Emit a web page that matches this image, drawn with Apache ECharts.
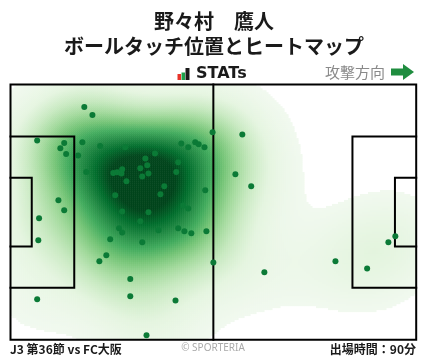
<!DOCTYPE html>
<html><head><meta charset="utf-8">
<script src="https://cdn.jsdelivr.net/npm/echarts@6/dist/echarts.min.js"></script>
<style>html,body{margin:0;padding:0;background:#fff}#c{width:428px;height:359px}</style>
</head><body><div id="c"></div>
<script>
// Ball touch positions, metres (x: 0..105 toward attack, y: 0..68 from top touchline)
const touchX = [19.1,21.2,52.3,60.0,6.9,13.9,12.9,14.4,18.6,17.5,23.2,29.7,44.2,46.0,47.8,48.7,50.2,37.4,34.9,43.4,35.4,33.6,28.9,27.6,26.6,28.7,35.7,34.1,42.9,19.6,30.0,39.8,50.4,38.8,27.1,12.4,13.9,44.7,46.0,28.9,35.7,7.4,33.6,7.2,28.1,28.9,25.8,34.1,38.3,43.4,45.0,46.8,50.7,24.8,23.0,52.5,31.0,31.0,6.9,42.7,35.2,58.2,62.3,65.7,84.1,92.3,97.8,99.6];
const touchY = [6.0,8.1,12.7,13.3,14.9,15.6,17.0,18.5,15.4,18.9,16.4,16.7,15.7,16.7,15.4,15.9,16.7,18.4,19.7,20.7,21.5,22.3,22.6,23.4,23.6,23.7,23.7,24.5,23.3,23.3,25.8,27.1,28.2,29.2,29.5,30.8,33.5,32.2,33.0,33.8,34.0,35.6,36.4,41.5,38.3,39.4,41.2,42.0,38.8,38.3,39.1,39.6,39.1,45.5,47.1,47.4,51.8,56.4,57.2,57.5,66.8,23.9,27.1,50.0,47.1,49.0,42.0,40.4];
const pitchLength = 105, pitchWidth = 68;
const pitchLines = [
  [[0,0],[105,0],[105,68],[0,68],[0,0]],
  [[52.5,0],[52.5,68]],
  [[0,13.84],[16.5,13.84],[16.5,54.16],[0,54.16]],
  [[0,24.84],[5.5,24.84],[5.5,43.16],[0,43.16]],
  [[105,13.84],[88.5,13.84],[88.5,54.16],[105,54.16]],
  [[105,24.84],[99.5,24.84],[99.5,43.16],[105,43.16]]
];
const titleName = '野々村　鷹人';
const titleSub = 'ボールタッチ位置とヒートマップ';
const brandLabel = 'STATs';
const directionLabel = '攻撃方向';
const matchLabel = 'J3 第36節 vs FC大阪';
const creditLabel = '© SPORTERIA';
const minutesLabel = '出場時間：90分';

// Gaussian kernel density of the touch points (kernel sigma in metres)
const n = touchX.length;
const sigX = 9.5, sigY = 9.0;
function dens(x,y){
  let s=0;
  for (let i=0;i<n;i++){ const dx=(x-touchX[i])/sigX, dy=(y-touchY[i])/sigY; s+=Math.exp(-0.5*(dx*dx+dy*dy)); }
  return s;
}
const NX = 203, NY = 128;
const xCats = [], yCats = [];
for (let i=0;i<NX;i++) xCats.push(i);
for (let j=0;j<NY;j++) yCats.push(j);
const grid = []; let peak = 0;
for (let i=0;i<NX;i++) for (let j=0;j<NY;j++){
  const v = dens((i+0.5)/NX*pitchLength, (j+0.5)/NY*pitchWidth);
  grid.push([i,j,v]); if (v>peak) peak=v;
}
const thr = peak*0.04;
const heatData = grid.filter(c=>c[2]>=thr);

const rect = {left:10.5, top:84.5, width:405.7, height:255.3};
const series = [{
  type:'heatmap', xAxisIndex:0, yAxisIndex:0, data:heatData, progressive:0,
  emphasis:{disabled:true}, silent:true
}];
pitchLines.forEach(l=>series.push({
  type:'line', xAxisIndex:1, yAxisIndex:1, data:l, symbol:'none', clip:false, silent:true,
  lineStyle:{color:'#000', width:2, cap:'square', join:'miter'}, z:5
}));
series.push({
  type:'scatter', xAxisIndex:1, yAxisIndex:1, data:touchX.map((x,i)=>[x,touchY[i]]),
  symbolSize:6, itemStyle:{color:'#0b7a36', opacity:1}, z:10, silent:true
});

const jp = '"Noto Sans CJK JP", "Noto Sans", sans-serif';
const chart = echarts.init(document.getElementById('c'));
chart.setOption({
  animation:false,
  backgroundColor:'#fff',
  grid:[Object.assign({}, rect), Object.assign({}, rect)],
  xAxis:[
    {type:'category', data:xCats, gridIndex:0, show:false},
    {type:'value', min:0, max:pitchLength, gridIndex:1, show:false}
  ],
  yAxis:[
    {type:'category', data:yCats, gridIndex:0, show:false, inverse:true},
    {type:'value', min:0, max:pitchWidth, gridIndex:1, show:false, inverse:true}
  ],
  visualMap:{show:false, seriesIndex:0, dimension:2, min:thr, max:peak*0.88,
    inRange:{color:['#f1f9ef','#e5f5e0','#c7e9c0','#a1d99b','#74c476','#41ab5d','#238b45','#006d2c','#00441b']}},
  series:series,
  graphic:[
    {type:'text', style:{x:214, y:21, text:titleName, textAlign:'center', textVerticalAlign:'middle', font:'bold 20px '+jp, fill:'#1a1a1a'}},
    {type:'text', style:{x:214, y:46, text:titleSub, textAlign:'center', textVerticalAlign:'middle', font:'bold 20px '+jp, fill:'#1a1a1a'}},
    {type:'rect', shape:{x:177.5, y:74, width:3.5, height:6}, style:{fill:'#e8332a'}},
    {type:'rect', shape:{x:181.5, y:72.5, width:3.5, height:7.5}, style:{fill:'#1ea04a'}},
    {type:'rect', shape:{x:185.5, y:68, width:4, height:12}, style:{fill:'#1a1a1a'}},
    {type:'text', style:{x:196, y:74, text:brandLabel, textAlign:'left', textVerticalAlign:'middle', font:'bold 16px "DejaVu Sans", sans-serif', fill:'#1a1a1a'}},
    {type:'text', style:{x:385, y:72, text:directionLabel, textAlign:'right', textVerticalAlign:'middle', font:'15px '+jp, fill:'#8a8a8a'}},
    {type:'polygon', shape:{points:[[391,68.5],[403,68.5],[403,64],[414,72],[403,80],[403,75.5],[391,75.5]]}, style:{fill:'#1f8d3f'}},
    {type:'text', style:{x:10, y:349, text:matchLabel, textAlign:'left', textVerticalAlign:'middle', font:'bold 12px '+jp, fill:'#1a1a1a'}},
    {type:'text', style:{x:213, y:348, text:creditLabel, textAlign:'center', textVerticalAlign:'middle', font:'10px "Noto Sans", sans-serif', fill:'#aaaaaa'}},
    {type:'text', style:{x:416, y:349, text:minutesLabel, textAlign:'right', textVerticalAlign:'middle', font:'bold 12px '+jp, fill:'#1a1a1a'}}
  ]
});
</script></body></html>
